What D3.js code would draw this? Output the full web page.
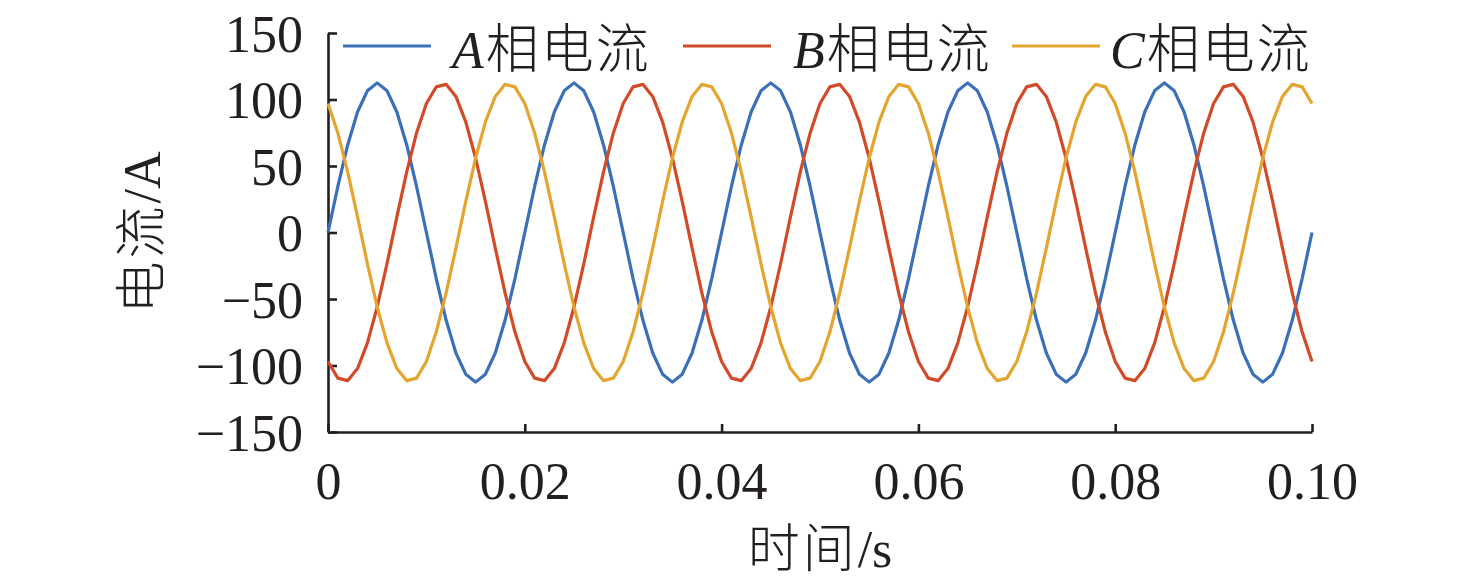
<!DOCTYPE html>
<html>
<head>
<meta charset="utf-8">
<script src="https://cdn.jsdelivr.net/npm/d3@7"></script>
<style>
  html, body { margin: 0; padding: 0; background: #ffffff; }
  svg { display: block; }
  text { font-family: "Liberation Serif", "Noto Sans CJK SC", serif; fill: #231f20; }
</style>
</head>
<body>
<svg id="chart" width="1476" height="584"></svg>
<script>
// ---- data ----
const timeMs = [
  0,1,2,3,4,5,6,7,8,9,10,11,12,13,14,15,16,17,18,19,
  20,21,22,23,24,25,26,27,28,29,30,31,32,33,34,35,36,37,38,39,
  40,41,42,43,44,45,46,47,48,49,50,51,52,53,54,55,56,57,58,59,
  60,61,62,63,64,65,66,67,68,69,70,71,72,73,74,75,76,77,78,79,
  80,81,82,83,84,85,86,87,88,89,90,91,92,93,94,95,96,97,98,99,100
];
const phaseA = [
  0,34.6,65.8,90.6,106.5,112.5,106.5,90.6,65.8,34.6,0,-34.6,-65.8,-90.6,-106.5,-112.5,-106.5,-90.6,-65.8,-34.6,
  0,34.6,65.8,90.6,106.5,112.5,106.5,90.6,65.8,34.6,0,-34.6,-65.8,-90.6,-106.5,-112.5,-106.5,-90.6,-65.8,-34.6,
  0,34.6,65.8,90.6,106.5,112.5,106.5,90.6,65.8,34.6,0,-34.6,-65.8,-90.6,-106.5,-112.5,-106.5,-90.6,-65.8,-34.6,
  0,34.6,65.8,90.6,106.5,112.5,106.5,90.6,65.8,34.6,0,-34.6,-65.8,-90.6,-106.5,-112.5,-106.5,-90.6,-65.8,-34.6,
  0,34.6,65.8,90.6,106.5,112.5,106.5,90.6,65.8,34.6,0,-34.6,-65.8,-90.6,-106.5,-112.5,-106.5,-90.6,-65.8,-34.6,
  0
];
const phaseB = [
  -97,-109.5,-111.4,-102.3,-83.2,-56,-23.3,11.7,45.6,74.9,97,109.5,111.4,102.3,83.2,56,23.3,-11.7,-45.6,-74.9,
  -97,-109.5,-111.4,-102.3,-83.2,-56,-23.3,11.7,45.6,74.9,97,109.5,111.4,102.3,83.2,56,23.3,-11.7,-45.6,-74.9,
  -97,-109.5,-111.4,-102.3,-83.2,-56,-23.3,11.7,45.6,74.9,97,109.5,111.4,102.3,83.2,56,23.3,-11.7,-45.6,-74.9,
  -97,-109.5,-111.4,-102.3,-83.2,-56,-23.3,11.7,45.6,74.9,97,109.5,111.4,102.3,83.2,56,23.3,-11.7,-45.6,-74.9,
  -97,-109.5,-111.4,-102.3,-83.2,-56,-23.3,11.7,45.6,74.9,97,109.5,111.4,102.3,83.2,56,23.3,-11.7,-45.6,-74.9,
  -97
];
const phaseC = [
  97,74.9,45.6,11.7,-23.3,-56,-83.2,-102.3,-111.4,-109.5,-97,-74.9,-45.6,-11.7,23.3,56,83.2,102.3,111.4,109.5,
  97,74.9,45.6,11.7,-23.3,-56,-83.2,-102.3,-111.4,-109.5,-97,-74.9,-45.6,-11.7,23.3,56,83.2,102.3,111.4,109.5,
  97,74.9,45.6,11.7,-23.3,-56,-83.2,-102.3,-111.4,-109.5,-97,-74.9,-45.6,-11.7,23.3,56,83.2,102.3,111.4,109.5,
  97,74.9,45.6,11.7,-23.3,-56,-83.2,-102.3,-111.4,-109.5,-97,-74.9,-45.6,-11.7,23.3,56,83.2,102.3,111.4,109.5,
  97,74.9,45.6,11.7,-23.3,-56,-83.2,-102.3,-111.4,-109.5,-97,-74.9,-45.6,-11.7,23.3,56,83.2,102.3,111.4,109.5,
  97
];
const seriesLetters = ["A", "B", "C"];
const seriesSuffix = "相电流";
const seriesColors = ["#3b6fb8", "#d14b28", "#e3a52f"];
const xTicks = [0, 0.02, 0.04, 0.06, 0.08, 0.10];
const yTicks = [-150, -100, -50, 0, 50, 100, 150];
const xTitle = "时间/s";
const yTitle = "电流/A";

(function () {
// ---- layout ----
const svg = d3.select("#chart");
const mLeft = 328, mRight = 1312, mTop = 33, mBottom = 432;
const fs = 52;
const cjk = '"Noto Sans CJK SC", sans-serif';
const latin = '"Liberation Serif", serif';

const x = d3.scaleLinear().domain([0, 0.1]).range([mLeft, mRight]);
const y = d3.scaleLinear().domain([-150, 150]).range([mBottom, mTop]);

// axes
const xAxis = d3.axisBottom(x).tickValues(xTicks)
  .tickFormat(d => d === 0 ? "0" : d3.format(".2f")(d))
  .tickSizeInner(-8).tickSizeOuter(0).tickPadding(30);
const yAxis = d3.axisLeft(y).tickValues(yTicks)
  .tickFormat(d3.format("d"))
  .tickSizeInner(-9).tickSizeOuter(0).tickPadding(25);

const gx = svg.append("g").attr("transform", `translate(0,${mBottom})`).call(xAxis);
const gy = svg.append("g").attr("transform", `translate(${mLeft},0)`).call(yAxis);
[gx, gy].forEach(g => {
  g.selectAll("path.domain").attr("stroke", "#231f20").attr("stroke-width", 2.6);
  g.selectAll(".tick line").attr("stroke", "#231f20").attr("stroke-width", 2.6);
  g.selectAll(".tick text").attr("fill", "#231f20")
    .style("font-family", latin).style("font-size", fs + "px");
});
gy.selectAll(".tick text").attr("dy", "0.35em");

// lines
const allSeries = [phaseA, phaseB, phaseC];
const line = d3.line().x((d, i) => x(timeMs[i] / 1000)).y(d => y(d));
const gLines = svg.append("g");
allSeries.forEach((s, k) => {
  gLines.append("path").datum(s)
    .attr("d", line)
    .attr("fill", "none")
    .attr("stroke", seriesColors[k])
    .attr("stroke-width", 3.2)
    .attr("stroke-linejoin", "round");
});

// legend
const legendLineX = [343, 683, 1012];
const legendTextX = [452, 793, 1110];
const legendY = 46;
seriesLetters.forEach((L, k) => {
  svg.append("line")
    .attr("x1", legendLineX[k]).attr("x2", legendLineX[k] + 88)
    .attr("y1", legendY).attr("y2", legendY)
    .attr("stroke", seriesColors[k]).attr("stroke-width", 3.2);
  const t = svg.append("text")
    .attr("x", legendTextX[k]).attr("y", legendY + 22)
    .style("font-size", fs + "px");
  t.append("tspan").text(L).style("font-style", "italic")
    .style("font-family", latin);
  t.append("tspan").text(seriesSuffix)
    .style("font-family", cjk)
    .style("font-weight", 300)
    .style("font-size", "53px")
    .attr("dx", 2)
    .style("letter-spacing", "2px");
});

// axis titles
const xt = svg.append("text")
  .attr("x", (mLeft + mRight) / 2).attr("y", 567)
  .attr("text-anchor", "middle").style("font-size", fs + "px");
xt.append("tspan").text(xTitle.slice(0, 2)).style("font-family", cjk).style("font-weight", 300).style("font-size", "52px").style("letter-spacing", "3px");
xt.append("tspan").text(xTitle.slice(2)).style("font-family", latin);

const yt = svg.append("text")
  .attr("transform", `translate(160,${(mTop + mBottom) / 2}) rotate(-90)`)
  .attr("text-anchor", "middle").style("font-size", fs + "px");
yt.append("tspan").text(yTitle.slice(0, 2)).style("font-family", cjk).style("font-weight", 300).style("font-size", "52px").style("letter-spacing", "3px");
yt.append("tspan").text(yTitle.slice(2)).style("font-family", latin);
})();
</script>
</body>
</html>
